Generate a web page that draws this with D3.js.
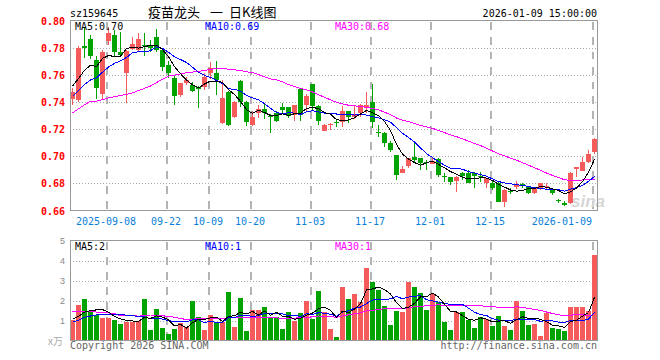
<!DOCTYPE html>
<html><head><meta charset="utf-8">
<script src="https://cdn.jsdelivr.net/npm/d3@7/dist/d3.min.js"></script>
<style>
html,body{margin:0;padding:0;background:#fff;}
svg{display:block;}
</style></head><body>
<svg id="chart" width="660" height="360"></svg>
<script>
// ---------- data ----------
const dates = [
"2025-08-29","2025-09-01","2025-09-02","2025-09-03","2025-09-04","2025-09-05",
"2025-09-08","2025-09-09","2025-09-10","2025-09-11","2025-09-12",
"2025-09-15","2025-09-16","2025-09-17","2025-09-18","2025-09-19",
"2025-09-22","2025-09-23","2025-09-24","2025-09-25","2025-09-26",
"2025-09-29","2025-09-30","2025-10-09","2025-10-10",
"2025-10-13","2025-10-14","2025-10-15","2025-10-16","2025-10-17",
"2025-10-20","2025-10-21","2025-10-22","2025-10-23","2025-10-24",
"2025-10-27","2025-10-28","2025-10-29","2025-10-30","2025-10-31",
"2025-11-03","2025-11-04","2025-11-05","2025-11-06","2025-11-07",
"2025-11-10","2025-11-11","2025-11-12","2025-11-13","2025-11-14",
"2025-11-17","2025-11-18","2025-11-19","2025-11-20","2025-11-21",
"2025-11-24","2025-11-25","2025-11-26","2025-11-27","2025-11-28",
"2025-12-01","2025-12-02","2025-12-03","2025-12-04","2025-12-05",
"2025-12-08","2025-12-09","2025-12-10","2025-12-11","2025-12-12",
"2025-12-15","2025-12-16","2025-12-17","2025-12-18","2025-12-19",
"2025-12-22","2025-12-23","2025-12-24","2025-12-25","2025-12-26",
"2025-12-29","2025-12-30","2025-12-31",
"2026-01-05","2026-01-06","2026-01-07","2026-01-08","2026-01-09"];

const open = [0.742,0.7415,0.781,0.7865,0.771,0.746,0.7851,0.7893,0.7768,0.7611,
0.779,0.7783,0.782,0.7815,0.7876,0.7785,0.767,0.758,0.7451,0.7537,
0.7525,0.751,0.7512,0.761,0.761,0.7242,0.7475,0.7291,0.7556,0.7402,
0.723,0.732,0.7348,0.7295,0.7316,0.7365,0.736,0.7304,0.7495,0.7377,
0.7532,0.737,0.7188,0.7235,0.725,0.7254,0.7333,0.7287,0.7316,0.7366,
0.7402,0.7175,0.7173,0.710,0.7009,0.6878,0.6928,0.6997,0.6985,0.6955,
0.6942,0.6977,0.6852,0.6849,0.6819,0.6874,0.6874,0.6874,0.6852,0.6805,
0.6805,0.680,0.6665,0.6742,0.6771,0.6797,0.6771,0.6727,0.6756,0.6774,
0.6756,0.6674,0.6657,0.6653,0.6905,0.6893,0.696,0.703];

const high = [0.750,0.781,0.7955,0.789,0.7735,0.778,0.7954,0.793,0.7917,0.778,
0.788,0.7906,0.7906,0.786,0.7935,0.7795,0.7705,0.7598,0.754,0.7582,
0.7545,0.752,0.7615,0.7696,0.770,0.7562,0.748,0.741,0.7565,0.741,
0.7335,0.738,0.7395,0.731,0.733,0.739,0.7365,0.738,0.750,0.7458,
0.7535,0.7375,0.724,0.7245,0.7265,0.737,0.7335,0.737,0.7385,0.7475,
0.7532,0.723,0.7175,0.711,0.701,0.6925,0.699,0.7107,0.699,0.697,
0.6995,0.6985,0.6874,0.685,0.6855,0.6885,0.6895,0.6886,0.6885,0.684,
0.6815,0.681,0.6755,0.6768,0.6815,0.6805,0.6775,0.677,0.6805,0.6805,
0.6766,0.6685,0.667,0.6885,0.692,0.6996,0.7046,0.7135];

const low = [0.738,0.740,0.7725,0.772,0.7425,0.7414,0.782,0.7733,0.773,0.739,
0.778,0.7775,0.774,0.777,0.777,0.7625,0.7575,0.7377,0.744,0.7525,
0.747,0.7353,0.7488,0.757,0.745,0.7235,0.722,0.728,0.7365,0.7225,
0.722,0.7285,0.7275,0.717,0.725,0.732,0.728,0.7262,0.7262,0.7325,
0.7335,0.723,0.7185,0.7195,0.7215,0.7215,0.7247,0.7275,0.729,0.7316,
0.7206,0.7145,0.7066,0.703,0.6825,0.6875,0.6915,0.696,0.6898,0.690,
0.694,0.685,0.681,0.6788,0.6738,0.6825,0.680,0.6763,0.681,0.6763,
0.675,0.666,0.6628,0.6725,0.676,0.6767,0.672,0.672,0.675,0.6756,
0.6715,0.6657,0.6635,0.6645,0.685,0.689,0.695,0.702];

const close = [0.7475,0.780,0.780,0.7735,0.750,0.7768,0.7906,0.7766,0.7746,0.7775,
0.783,0.7867,0.7815,0.780,0.7785,0.766,0.761,0.7445,0.7537,0.756,
0.748,0.7495,0.7586,0.7648,0.7562,0.7427,0.723,0.7402,0.7402,0.7254,
0.7291,0.7348,0.7316,0.729,0.7262,0.734,0.7296,0.7377,0.7304,0.7446,
0.737,0.7262,0.723,0.724,0.7245,0.7333,0.729,0.7311,0.7377,0.7377,
0.7254,0.717,0.710,0.7046,0.6861,0.6903,0.6985,0.6972,0.6948,0.695,
0.6967,0.6861,0.6846,0.6812,0.6849,0.6852,0.6805,0.6855,0.6847,0.6837,
0.6763,0.6665,0.6751,0.6738,0.6795,0.6793,0.6727,0.6763,0.680,0.6778,
0.6727,0.667,0.664,0.6874,0.6918,0.696,0.7014,0.7125];

// volume (万)
const volume = [1.03,1.78,2.08,1.48,1.28,1.12,1.12,1.03,0.83,0.95,
0.95,1.0,2.08,0.53,1.58,0.65,0.33,0.58,0.87,0.7,
1.98,1.17,0.53,1.28,0.87,0.92,2.42,0.7,2.13,0.48,
1.53,1.53,1.68,1.12,1.18,0.58,1.42,1.0,1.38,1.98,
1.08,2.48,1.42,0.58,0.18,2.68,2.08,2.33,1.93,3.63,
2.93,2.53,1.73,0.78,1.48,1.42,2.93,2.68,2.38,1.53,
2.33,1.93,0.93,0.53,1.42,1.42,1.03,0.63,1.18,1.08,
0.73,1.23,0.73,0.53,1.98,1.48,0.78,0.83,0.23,1.38,
0.63,0.58,0.48,1.68,1.68,1.68,1.48,4.28];

// sessions before the visible window (not drawn), estimated from where the MA lines start
const priorCloses = [0.690,0.692,0.694,0.745,0.748,0.751,0.748,0.752,0.750,0.750,
0.735,0.733,0.730,0.700,0.694,0.692,0.722,0.727,0.730,0.733,
0.736,0.738,0.739,0.735,0.735,0.752,0.750,0.755,0.754];
const priorVolumes = [1.9,2.1,1.8,1.9,2.0,1.7,1.9,4.4,1.0,0.9,
1.1,2.0,0.6,1.5,0.7,0.4,2.4,2.6,2.5,1.2,
0.8,0.7,0.8,0.75,0.8,1.1,1.0,1.1,1.12];

const priceTicks = [0.80,0.78,0.76,0.74,0.72,0.70,0.68,0.66];
const volumeTicks = [5,4,3,2,1];
const dateTicks = ["2025-09-08","2025-09-22","2025-10-09","2025-10-20","2025-11-03","2025-11-17","2025-12-01","2025-12-15","2026-01-09"];
const dateTickLabels = ["2025-09-08","09-22","10-09","10-20","11-03","11-17","12-01","12-15","2026-01-09"];

// ---------- helpers ----------
function movingAvg(series, prior, n){
  const all = prior.concat(series), off = prior.length;
  return series.map((_, i) => d3.mean(all.slice(off + i - n + 1, off + i + 1)));
}
const ma5 = movingAvg(close, priorCloses, 5);
const ma10 = movingAvg(close, priorCloses, 10);
const ma30 = movingAvg(close, priorCloses, 30);
const vma5 = movingAvg(volume, priorVolumes, 5);
const vma10 = movingAvg(volume, priorVolumes, 10);
const vma30 = movingAvg(volume, priorVolumes, 30);

const RED = "#f65b5b", GREEN = "#00a300";
const MONO = "'DejaVu Sans Mono', 'Liberation Mono', monospace";

const svg = d3.select("#chart");
const L = 70, R = 597;
const pTop = 20.5, pBot = 210.5, vTop = 240.5, vBot = 340.5;

const x = d3.scaleBand().domain(dates).range([L, R]).paddingInner(1/6).paddingOuter(0);
const bw = x.bandwidth();
const cx = d => x(d) + bw / 2;
const yP = d3.scaleLinear().domain([0.66, 0.80]).range([pBot, pTop]);
const yV = d3.scaleLinear().domain([0, 5]).range([vBot, vTop]);

const snap = v => Math.round(v) + 0.5;

// ---------- header ----------
svg.append("text").attr("x", 70).attr("y", 17).attr("font-family", MONO).attr("font-size", 10)
  .attr("fill", "#000").text("sz159645");
const title = svg.append("text").attr("y", 17).attr("font-family", "'Noto Sans CJK SC', sans-serif")
  .attr("font-size", 13).attr("fill", "#000");
title.append("tspan").attr("x", 148).text("疫苗龙头");
title.append("tspan").attr("x", 210).text("一");
title.append("tspan").attr("x", 229).text("日K线图");
svg.append("text").attr("x", 597).attr("y", 16.5).attr("text-anchor", "end").attr("font-family", MONO)
  .attr("font-size", 10).attr("fill", "#000").text("2026-01-09 15:00:00");

// ---------- grids ----------
function panelGrid(yScale, ticks, top, bot){
  const g = svg.append("g").attr("shape-rendering", "crispEdges");
  g.selectAll("line.h").data(ticks).join("line").attr("class", "h")
    .attr("x1", L).attr("x2", R + 1)
    .attr("y1", d => snap(yScale(d))).attr("y2", d => snap(yScale(d)))
    .attr("stroke", "#aaa").attr("stroke-width", 1).attr("stroke-dasharray", "1,2");
  g.selectAll("line.v").data(dateTicks).join("line").attr("class", "v")
    .attr("x1", d => x(d) + 1).attr("x2", d => x(d) + 1)
    .attr("y1", top + 1).attr("y2", bot)
    .attr("stroke", "#b4b4b4").attr("stroke-width", 2).attr("stroke-dasharray", "8,7");
}
panelGrid(yP, priceTicks.filter(v => v < 0.799 && v > 0.661), pTop, pBot);
panelGrid(yV, volumeTicks.filter(v => v < 5), vTop, vBot);

// watermark
svg.append("text").attr("x", 571).attr("y", 207).attr("font-family", "'Liberation Sans', sans-serif")
  .attr("font-style", "italic").attr("font-weight", "bold").attr("font-size", 17)
  .attr("fill", "#d6d6d6").text("sina");

// ---------- candles ----------
const idx = d3.range(dates.length);
const cg = svg.append("g").attr("shape-rendering", "crispEdges");
cg.selectAll("line.wick").data(idx).join("line").attr("class", "wick")
  .attr("x1", i => Math.floor(cx(dates[i])) + 0.5).attr("x2", i => Math.floor(cx(dates[i])) + 0.5)
  .attr("y1", i => yP(high[i])).attr("y2", i => yP(low[i]))
  .attr("stroke", i => close[i] >= open[i] ? RED : GREEN).attr("stroke-width", 1);
cg.selectAll("rect.body").data(idx).join("rect").attr("class", "body")
  .attr("x", i => x(dates[i])).attr("width", bw)
  .attr("y", i => yP(Math.max(open[i], close[i])))
  .attr("height", i => Math.max(1, Math.abs(yP(open[i]) - yP(close[i]))))
  .attr("fill", i => close[i] >= open[i] ? RED : GREEN);

// ---------- volume bars ----------
svg.append("g").attr("shape-rendering", "crispEdges")
  .selectAll("rect").data(idx).join("rect")
  .attr("x", i => x(dates[i])).attr("width", bw)
  .attr("y", i => yV(volume[i])).attr("height", i => yV(0) - yV(volume[i]))
  .attr("fill", i => close[i] >= open[i] ? RED : GREEN);

// ---------- MA lines ----------
function maLine(values, yScale, color){
  const line = d3.line().x((v, i) => cx(dates[i])).y(v => yScale(v));
  svg.append("path").attr("d", line(values)).attr("fill", "none")
    .attr("stroke", color).attr("stroke-width", 1).attr("shape-rendering", "crispEdges");
}
maLine(ma30, yP, "#ff00ff");
maLine(ma10, yP, "#0000ff");
maLine(ma5, yP, "#000000");
maLine(vma30, yV, "#ff00ff");
maLine(vma10, yV, "#0000ff");
maLine(vma5, yV, "#000000");

// ---------- borders ----------
const bg = svg.append("g").attr("shape-rendering", "crispEdges").attr("fill", "none")
  .attr("stroke", "#999").attr("stroke-width", 1.5);
bg.append("rect").attr("x", L + 0.5).attr("y", pTop).attr("width", R - L).attr("height", pBot - pTop);
bg.append("rect").attr("x", L + 0.5).attr("y", vTop).attr("width", R - L).attr("height", vBot - vTop);

// ---------- axis labels ----------
svg.append("g").selectAll("text").data(priceTicks).join("text")
  .attr("x", 65).attr("y", d => yP(d) + 4).attr("text-anchor", "end")
  .attr("font-family", MONO).attr("font-size", 10).attr("font-weight", "bold")
  .attr("fill", "#f00").text(d => d.toFixed(2));

svg.append("g").selectAll("text").data(dateTicks).join("text")
  .attr("x", (d, i) => i === dateTicks.length - 1 ? x(d) : x(d))
  .attr("y", 224.5)
  .attr("text-anchor", (d, i) => i === dateTicks.length - 1 ? "end" : "middle")
  .attr("font-family", MONO).attr("font-size", 10)
  .attr("fill", "#0b7fd6").text((d, i) => dateTickLabels[i]);

svg.append("g").selectAll("text").data(volumeTicks).join("text")
  .attr("x", 65).attr("y", d => yV(d) + 3.5).attr("text-anchor", "end")
  .attr("font-family", "'Liberation Sans', sans-serif").attr("font-size", 9)
  .attr("fill", "#888").text(d => d);
svg.append("text").attr("x", 48).attr("y", 345).attr("font-family", "'Noto Sans CJK SC', sans-serif")
  .attr("font-size", 10).attr("fill", "#aaa").text("x万");

// ---------- legends ----------
const last = dates.length - 1;
function legend(yy, items){
  items.forEach(([xx, txt, col]) => svg.append("text").attr("x", xx).attr("y", yy)
    .attr("font-family", MONO).attr("font-size", 10).attr("fill", col).text(txt));
}
legend(29.5, [[75, "MA5:" + ma5[last].toFixed(2), "#000"],
              [205, "MA10:" + ma10[last].toFixed(2), "#0000ff"],
              [335, "MA30:" + ma30[last].toFixed(2), "#ff00ff"]]);
legend(250, [[75, "MA5:" + vma5[last].toFixed(0), "#000"],
             [205, "MA10:" + vma10[last].toFixed(0), "#0000ff"],
             [335, "MA30:" + vma30[last].toFixed(0), "#ff00ff"]]);

// ---------- footer ----------
svg.append("text").attr("x", 70).attr("y", 349).attr("font-family", MONO).attr("font-size", 10)
  .attr("fill", "#666").text("Copyright 2026 SINA.COM");
svg.append("text").attr("x", 597).attr("y", 349).attr("text-anchor", "end").attr("font-family", MONO)
  .attr("font-size", 10).attr("fill", "#666").text("http://finance.sina.com.cn");
</script>
</body></html>
